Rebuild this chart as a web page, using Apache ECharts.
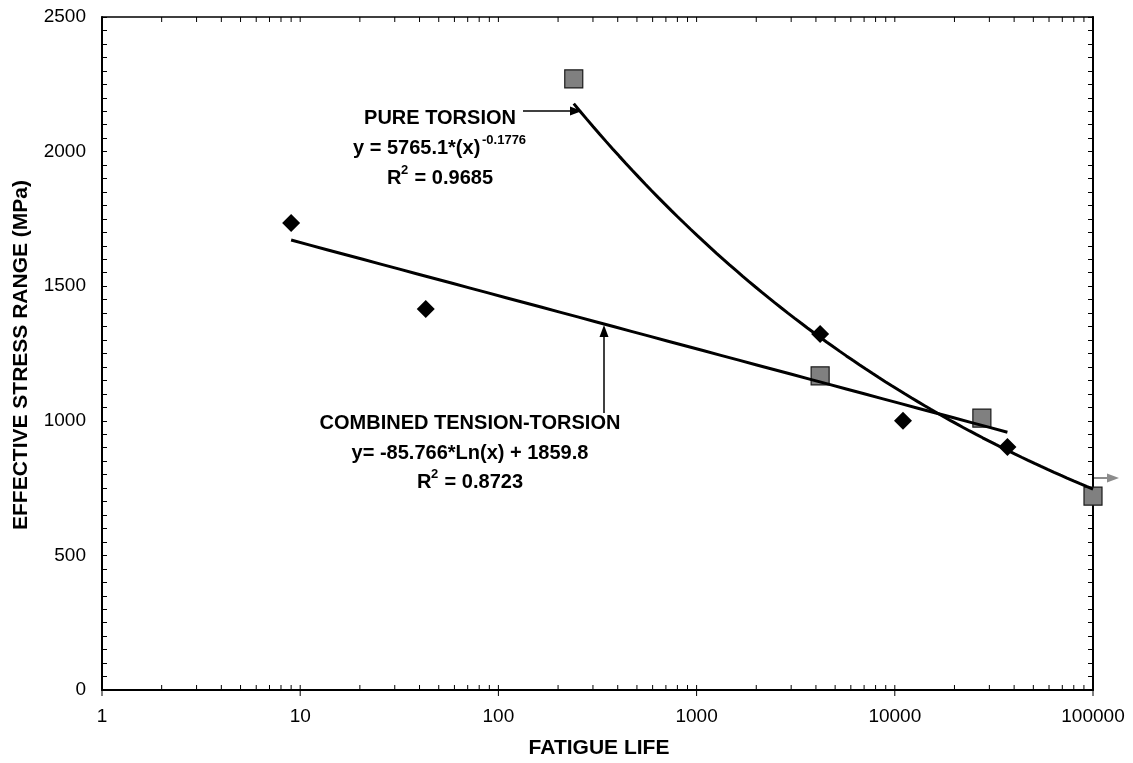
<!DOCTYPE html>
<html>
<head>
<meta charset="utf-8">
<script src="https://cdn.jsdelivr.net/npm/echarts@6/dist/echarts.min.js"></script>
<style>
  html, body { margin: 0; padding: 0; background: #fff; }
  #chart { width: 1133px; height: 763px; }
</style>
</head>
<body>
<div id="chart"></div>
<script>
// Combined tension-torsion tests: fatigue life (cycles) and effective stress range (MPa)
const combinedLife = [9, 43, 4200, 11000, 37000];
const combinedStress = [1735, 1415, 1322, 1000, 903];

// Pure torsion tests
const torsionLife = [240, 4200, 27500, 100000];
const torsionStress = [2270, 1167, 1010, 720];

// Trend-line coefficients from the fitted equations
const combinedFit = [-85.766, 1859.8]; // y = a*Ln(x) + b
const torsionFit = [5765.1, -0.1776];  // y = a*(x)^b

// Axis ranges
const xRange = [1, 100000];
const yRange = [0, 2500];
const yStep = 50;          // minor tick spacing
const yLabelStep = 500;    // labelled tick spacing

// Decade positions for log-axis tick marks (1..9 in every decade)
const xTickValues = [];
for (let d = 1; d < xRange[1]; d *= 10) {
  for (let m = 1; m <= 9; m++) xTickValues.push(m * d);
}
xTickValues.push(xRange[1]);

function sampleCurve(lo, hi, f, n) {
  const pts = [];
  const a = Math.log10(lo), b = Math.log10(hi);
  for (let i = 0; i <= n; i++) {
    const x = Math.pow(10, a + (b - a) * i / n);
    pts.push([x, f(x)]);
  }
  return pts;
}

const combinedTrend = sampleCurve(
  Math.min(...combinedLife), Math.max(...combinedLife),
  x => combinedFit[0] * Math.log(x) + combinedFit[1], 40);
const torsionTrend = sampleCurve(
  Math.min(...torsionLife), Math.max(...torsionLife),
  x => torsionFit[0] * Math.pow(x, torsionFit[1]), 80);

const FONT = '"Liberation Sans", Arial, sans-serif';

const chart = echarts.init(document.getElementById('chart'), null, { renderer: 'canvas' });

function txt(text, x, y, size, align, extra) {
  return Object.assign({
    type: 'text', x: x, y: y, z: 100,
    style: {
      text: text, fill: '#000',
      font: 'bold ' + size + 'px ' + FONT,
      align: align || 'center', verticalAlign: 'middle'
    }
  }, extra || {});
}

function arrowHead(tipX, tipY, dir, color) {
  const L = 12, W = 4.5;
  const pts = dir === 'right'
    ? [[tipX, tipY], [tipX - L, tipY - W], [tipX - L, tipY + W]]
    : [[tipX, tipY], [tipX - W, tipY + L], [tipX + W, tipY + L]];
  return { type: 'polygon', z: 100, shape: { points: pts }, style: { fill: color } };
}

chart.setOption({
  animation: false,
  backgroundColor: '#fff',
  grid: { left: 102, right: 40, top: 17, bottom: 73, containLabel: false },
  xAxis: [{
    type: 'log', logBase: 10, min: xRange[0], max: xRange[1],
    position: 'bottom',
    axisLine: { show: true, onZero: false, lineStyle: { color: '#000', width: 2 } },
    axisTick: { show: false },
    splitLine: { show: false },
    axisLabel: {
      color: '#000', fontFamily: FONT, fontSize: 19, margin: 17,
      formatter: v => String(Math.round(v))
    }
  }, {
    type: 'log', logBase: 10, min: xRange[0], max: xRange[1],
    position: 'top',
    axisLine: { show: true, onZero: false, lineStyle: { color: '#000', width: 1.5 } },
    axisTick: { show: false }, axisLabel: { show: false }, splitLine: { show: false }
  }],
  yAxis: [{
    type: 'value', min: yRange[0], max: yRange[1], interval: yStep,
    position: 'left',
    axisLine: { show: true, onZero: false, lineStyle: { color: '#000', width: 2 } },
    axisTick: { show: true, inside: true, length: 5, lineStyle: { color: '#000', width: 1 } },
    splitLine: { show: false },
    axisLabel: {
      color: '#000', fontFamily: FONT, fontSize: 19, margin: 16,
      formatter: v => (Math.round(v) % yLabelStep === 0 ? String(Math.round(v)) : '')
    }
  }, {
    type: 'value', min: yRange[0], max: yRange[1], interval: yStep,
    position: 'right',
    axisLine: { show: true, onZero: false, lineStyle: { color: '#000', width: 2 } },
    axisTick: { show: true, inside: true, length: 5, lineStyle: { color: '#000', width: 1 } },
    splitLine: { show: false },
    axisLabel: { show: false }
  }],
  series: [
    {
      // log-axis tick marks on bottom and top edges
      type: 'custom', silent: true, z: 1,
      data: xTickValues.map(v => [v, 0]),
      renderItem: function (params, api) {
        const v = api.value(0);
        const b = api.coord([v, yRange[0]]);
        const t = api.coord([v, yRange[1]]);
        const major = Math.abs(Math.log10(v) - Math.round(Math.log10(v))) < 1e-9;
        const st = { stroke: '#000', lineWidth: 1 };
        return {
          type: 'group',
          children: [
            { type: 'line', shape: { x1: b[0], y1: major ? b[1] + 6 : b[1], x2: b[0], y2: b[1] - 5 }, style: st },
            { type: 'line', shape: { x1: t[0], y1: t[1], x2: t[0], y2: t[1] + 5 }, style: st }
          ]
        };
      }
    },
    {
      name: 'COMBINED TENSION-TORSION', type: 'scatter',
      data: combinedLife.map((x, i) => [x, combinedStress[i]]),
      symbol: 'diamond', symbolSize: 18,
      itemStyle: { color: '#000', opacity: 1 }, z: 3
    },
    {
      name: 'PURE TORSION', type: 'scatter',
      data: torsionLife.map((x, i) => [x, torsionStress[i]]),
      symbol: 'rect', symbolSize: 18,
      itemStyle: { color: '#808080', borderColor: '#1a1a1a', borderWidth: 1.2, opacity: 1 }, z: 3
    },
    {
      name: 'combined trend', type: 'line', data: combinedTrend,
      showSymbol: false, smooth: false,
      lineStyle: { color: '#000', width: 3 }, z: 4
    },
    {
      name: 'torsion trend', type: 'line', data: torsionTrend,
      showSymbol: false, smooth: false,
      lineStyle: { color: '#000', width: 3 }, z: 4
    }
  ],
  graphic: [
    // axis titles
    txt('FATIGUE LIFE', 599, 748, 21, 'center'),
    txt('EFFECTIVE STRESS RANGE (MPa)', 21, 355, 21, 'center', { rotation: Math.PI / 2 }),

    // pure torsion annotation
    txt('PURE TORSION', 440, 118, 20, 'center'),
    txt('y = 5765.1*(x)', 353, 148, 20, 'left'),
    txt('-0.1776', 482, 140, 13, 'left'),
    txt('R', 387, 178, 20, 'left'),
    txt('2', 401, 170, 13, 'left'),
    txt('= 0.9685', 493, 178, 20, 'right'),
    { type: 'line', z: 100, shape: { x1: 523, y1: 111, x2: 571, y2: 111 }, style: { stroke: '#000', lineWidth: 1.5 } },
    arrowHead(582, 111, 'right', '#000'),

    // combined tension-torsion annotation
    txt('COMBINED TENSION-TORSION', 470, 423, 20, 'center'),
    txt('y= -85.766*Ln(x) + 1859.8', 470, 453, 20, 'center'),
    txt('R', 417, 482, 20, 'left'),
    txt('2', 431, 474, 13, 'left'),
    txt('= 0.8723', 523, 482, 20, 'right'),
    { type: 'line', z: 100, shape: { x1: 604, y1: 413, x2: 604, y2: 337 }, style: { stroke: '#000', lineWidth: 1.5 } },
    arrowHead(604, 325, 'up', '#000'),

    // run-out marker at the right edge
    { type: 'line', z: 100, shape: { x1: 1094, y1: 478, x2: 1108, y2: 478 }, style: { stroke: '#8c8c8c', lineWidth: 2 } },
    arrowHead(1119, 478, 'right', '#8c8c8c')
  ]
});
</script>
</body>
</html>
